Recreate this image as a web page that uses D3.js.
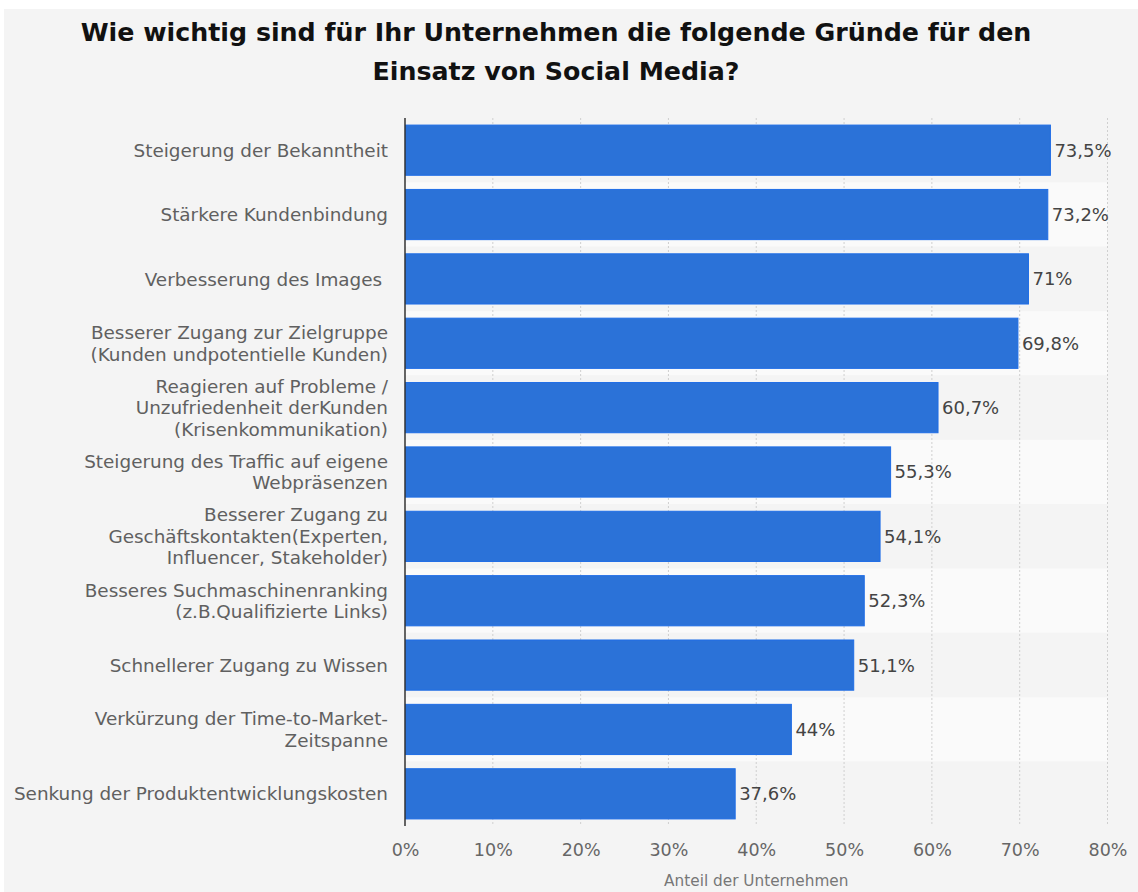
<!DOCTYPE html>
<html><head><meta charset="utf-8">
<script src="https://cdn.jsdelivr.net/npm/d3@7"></script>
<style>
html,body{margin:0;padding:0;background:#fff;}
svg{display:block;font-family:"DejaVu Sans",sans-serif;}
</style></head>
<body><svg id="c" width="1138" height="892"></svg>
<script>
const categories = [
  ["Steigerung der Bekanntheit"],
  ["Stärkere Kundenbindung"],
  ["Verbesserung des Images "],
  ["Besserer Zugang zur Zielgruppe","(Kunden undpotentielle Kunden)"],
  ["Reagieren auf Probleme /","Unzufriedenheit derKunden","(Krisenkommunikation)"],
  ["Steigerung des Traffic auf eigene","Webpräsenzen"],
  ["Besserer Zugang zu","Geschäftskontakten(Experten,","Influencer, Stakeholder)"],
  ["Besseres Suchmaschinenranking","(z.B.Qualifizierte Links)"],
  ["Schnellerer Zugang zu Wissen"],
  ["Verkürzung der Time-to-Market-","Zeitspanne"],
  ["Senkung der Produktentwicklungskosten"]
];
const values = [73.5, 73.2, 71, 69.8, 60.7, 55.3, 54.1, 52.3, 51.1, 44, 37.6];
const xTicks = [0, 10, 20, 30, 40, 50, 60, 70, 80];
const titleLines = ["Wie wichtig sind für Ihr Unternehmen die folgende Gründe für den","Einsatz von Social Media?"];
const axisTitle = "Anteil der Unternehmen";

const svg = d3.select("#c");
svg.append("rect").attr("x",4).attr("y",9).attr("width",1134).attr("height",883).attr("fill","#f4f4f4");

const L = 405, R = 1107.5, T = 118, B = 826;
const x = d3.scaleLinear().domain([0,80]).range([L,R]);
const idx = d3.range(values.length);
const y = d3.scaleBand().domain(idx).range([T,B]).paddingInner(0.22).paddingOuter(0.11);
const yb = d3.scaleBand().domain(idx).range([T,B]);

// bands
svg.append("g").selectAll("rect").data(idx).join("rect")
  .attr("x",L).attr("width",R-L).attr("y",d=>yb(d)).attr("height",yb.bandwidth())
  .attr("fill",d=>d%2? "#fafafa":"#f4f4f4");

// grid
svg.append("g").selectAll("line").data(xTicks.slice(1)).join("line")
  .attr("x1",d=>x(d)).attr("x2",d=>x(d)).attr("y1",T).attr("y2",B)
  .attr("stroke","#cfcfcf").attr("stroke-width",1).attr("stroke-dasharray","2,2");

// bars
svg.append("g").selectAll("rect").data(idx).join("rect")
  .attr("x",x(0)+0.5).attr("y",d=>y(d)).attr("height",y.bandwidth())
  .attr("width",d=>x(values[d])-x(0)-0.5)
  .attr("fill","#2b72d8").attr("stroke","#1f6de6").attr("stroke-width",1);

// value labels
svg.append("g").selectAll("text").data(idx).join("text")
  .attr("x",d=>x(values[d])+4).attr("y",d=>y(d)+y.bandwidth()/2).attr("dy","0.36em")
  .attr("font-size",18).attr("fill","#444")
  .text(d=>String(values[d]).replace(".",",")+"%");

// y axis line
svg.append("line").attr("x1",L).attr("x2",L).attr("y1",T).attr("y2",B)
  .attr("stroke","#333").attr("stroke-width",1.5);

// category labels
const lh = 21.5;
const cg = svg.append("g");
idx.forEach(i=>{
  const lines = categories[i];
  const cy = yb(i)+yb.bandwidth()/2;
  const t = cg.append("text").attr("text-anchor","end").attr("font-size",18.4).attr("fill","#606060")
    .style("white-space","pre");
  lines.forEach((s,k)=>{
    t.append("tspan").attr("x",388).attr("y",cy+(k-(lines.length-1)/2)*lh).attr("dy","0.36em").text(s);
  });
});

// x axis
const xa = svg.append("g").attr("transform",`translate(0,${B})`)
  .call(d3.axisBottom(x).tickValues(xTicks).tickFormat(d=>d+"%").tickSize(0).tickPadding(18));
xa.select(".domain").remove();
xa.selectAll("text").attr("font-size",17.5).attr("fill","#666").attr("font-family","DejaVu Sans");

svg.append("text").attr("x",(L+R)/2).attr("y",880).attr("dy","0.36em").attr("text-anchor","middle")
  .attr("font-size",15.3).attr("fill","#777").text(axisTitle);

// title
svg.append("g").selectAll("text").data(titleLines).join("text")
  .attr("x",556).attr("y",(d,i)=>32+i*39).attr("dy","0.36em").attr("text-anchor","middle")
  .attr("font-size",25.3).attr("font-weight","bold").attr("fill","#111").text(d=>d);
</script></body></html>
